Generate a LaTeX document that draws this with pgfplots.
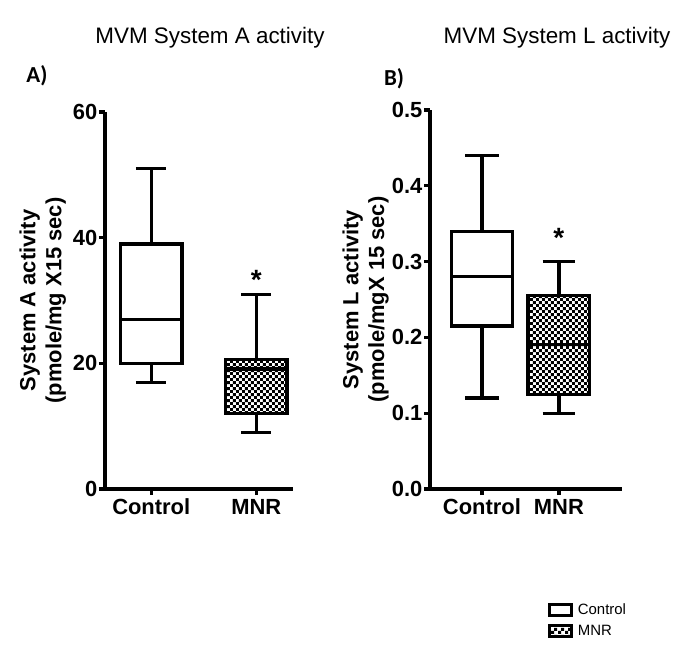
\documentclass[border=0pt]{standalone}
\usepackage{fontspec}
\setmainfont{Liberation Sans}
\newfontfamily\calibri{Carlito}
\usepackage{pgfplots}
\pgfplotsset{compat=1.18}
\usetikzlibrary{patterns}
\pgfdeclarepatternformonly{mycheck}{\pgfpointorigin}{\pgfpoint{6.4bp}{6.4bp}}{\pgfpoint{6.4bp}{6.4bp}}{%
 \pgfpathrectangle{\pgfpointorigin}{\pgfpoint{3.2bp}{3.2bp}}%
 \pgfpathrectangle{\pgfpoint{3.2bp}{3.2bp}}{\pgfpoint{3.2bp}{3.2bp}}%
 \pgfusepath{fill}}
\pgfplotsset{
 mystyle/.style={
  scale only axis, axis lines*=left,
  axis line style={line width=3.8bp},
  x axis line style={line width=3.8bp},
  y axis line style={line width=3.8bp},
  every outer x axis line/.append style={line width=3.8bp},
  every outer y axis line/.append style={line width=3.8bp},
  every inner x axis line/.append style={line width=3.8bp},
  every inner y axis line/.append style={line width=3.8bp},
  major tick style={line width=3.3bp, black},
  major tick length=6bp, tick align=outside,
  xtick={0,1}, xticklabels={Control,MNR},
  tick label style={font=\fontsize{22}{24}\selectfont\bfseries},
  yticklabel style={inner xsep=1.5bp},
  xticklabel style={text height=16bp, text depth=0bp},
  /pgf/number format/assume math mode=true,
  ylabel style={font=\fontsize{22}{26}\selectfont\bfseries, align=center},
  clip=false, unbounded coords=jump,
 },
 bx/.style={line width=3.3bp, draw=black, solid, mark=none},
}
\begin{document}
\begin{tikzpicture}
\useasboundingbox (0bp,0bp) rectangle (696bp,653bp);
% Panel A
\begin{axis}[mystyle, at={(105bp,164bp)}, anchor=south west,
  width=188bp, height=377bp,
  xmin=-0.44, xmax=1.35, ymin=0, ymax=60, ytick={0,20,40,60},
  ylabel={System A activity\\(pmole/mg X15 sec)}, ylabel shift=2bp]
% Control: whiskers 17-51, box 20-39, median 27
\addplot[bx] coordinates {(0,17) (0,20) (nan,nan) (0,39) (0,51) (nan,nan) (-0.145,17) (0.145,17) (nan,nan) (-0.145,51) (0.145,51)};
\addplot[bx, fill=white] coordinates {(-0.2925,20) (0.2925,20) (0.2925,39) (-0.2925,39)} -- cycle;
\addplot[bx] coordinates {(-0.2925,27) (0.2925,27)};
% MNR: whiskers 9-31, box 12-20.6, median 19.1
\addplot[bx] coordinates {(1,9) (1,12) (nan,nan) (1,20.6) (1,31) (nan,nan) (0.855,9) (1.145,9) (nan,nan) (0.855,31) (1.145,31)};
\addplot[bx, pattern=mycheck, pattern color=black] coordinates {(0.7075,12) (1.2925,12) (1.2925,20.6) (0.7075,20.6)} -- cycle;
\addplot[bx] coordinates {(0.7075,19.1) (1.2925,19.1)};
\node[font=\fontsize{28}{28}\selectfont\bfseries] at (axis cs:1,33.2) {*};
\end{axis}
% Panel B
\begin{axis}[mystyle, at={(430bp,164bp)}, anchor=south west,
  width=192bp, height=379bp,
  xmin=-0.675, xmax=1.82, ymin=0, ymax=0.5, ytick={0,0.1,0.2,0.3,0.4,0.5},
  yticklabel style={/pgf/number format/.cd, fixed, fixed zerofill, precision=1},
  ylabel={System L activity\\(pmole/mgX 15 sec)}, ylabel shift=-2bp,
  legend style={at={(0.6,-0.347)}, anchor=west, draw=none, fill=none,
    font=\fontsize{15}{17}\selectfont, row sep=5bp, column sep=3bp, cells={anchor=west}}]
% Control: whiskers 0.12-0.44, box 0.215-0.34, median 0.28
\addplot[bx, forget plot] coordinates {(0,0.12) (0,0.215) (nan,nan) (0,0.34) (0,0.44) (nan,nan) (-0.22,0.12) (0.22,0.12) (nan,nan) (-0.22,0.44) (0.22,0.44)};
\addplot[bx, fill=white, forget plot] coordinates {(-0.4,0.215) (0.4,0.215) (0.4,0.34) (-0.4,0.34)} -- cycle;
\addplot[bx, forget plot] coordinates {(-0.4,0.28) (0.4,0.28)};
% MNR: whiskers 0.10-0.30, box 0.125-0.255, median 0.191
\addplot[bx, forget plot] coordinates {(1,0.10) (1,0.125) (nan,nan) (1,0.255) (1,0.30) (nan,nan) (0.79,0.10) (1.21,0.10) (nan,nan) (0.79,0.30) (1.21,0.30)};
\addplot[bx, pattern=mycheck, pattern color=black, forget plot] coordinates {(0.6,0.125) (1.4,0.125) (1.4,0.255) (0.6,0.255)} -- cycle;
\addplot[bx, forget plot] coordinates {(0.6,0.191) (1.4,0.191)};
\node[font=\fontsize{28}{28}\selectfont\bfseries] at (axis cs:1,0.331) {*};
\addlegendimage{legend image code/.code={\draw[line width=2.5bp, fill=white] (0bp,-5.5bp) rectangle (22bp,5.5bp);}}
\addlegendentry{Control}
\addlegendimage{legend image code/.code={\draw[line width=2.5bp, pattern=mycheck, pattern color=black] (0bp,-5.5bp) rectangle (22bp,5.5bp);}}
\addlegendentry{MNR}
\end{axis}
\node[font=\fontsize{22.5}{24}\selectfont] at (210bp,615bp) {MVM System A activity};
\node[font=\fontsize{22.5}{24}\selectfont] at (557bp,615bp) {MVM System L activity};
\node[font=\calibri\fontsize{23}{25}\selectfont\bfseries] at (37bp,577.5bp) {A)};
\node[font=\calibri\fontsize{23}{25}\selectfont\bfseries] at (394bp,574.5bp) {B)};
\end{tikzpicture}
\end{document}
